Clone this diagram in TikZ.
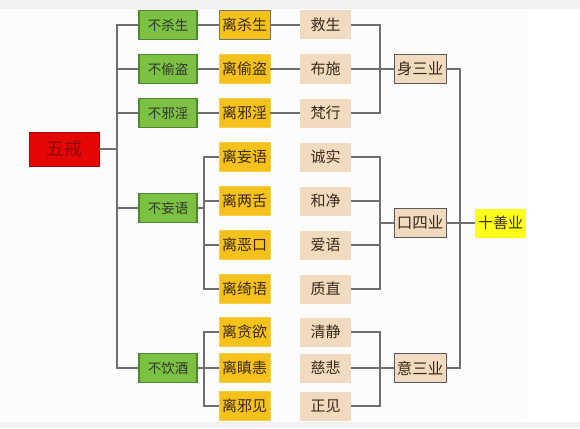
\documentclass[tikz,border=0pt]{standalone}
\usepackage{fontspec}
\usepackage{tikz}
\usetikzlibrary{positioning,calc}
\newfontfamily\cjk{Noto Sans CJK SC}
\definecolor{cRed}{HTML}{E50606}
\definecolor{cRedInk}{HTML}{8E0A0A}
\definecolor{cGreen}{HTML}{7CC142}
\definecolor{cGreenLine}{HTML}{4C8A2E}
\definecolor{cOrange}{HTML}{F5C21B}
\definecolor{cBeige}{HTML}{F1DABE}
\definecolor{cYel}{HTML}{FFFF1A}
\definecolor{cInk}{HTML}{3A2A1A}
\definecolor{cLine}{HTML}{6F6F6F}
\definecolor{cBand}{HTML}{F1F1F1}
\tikzset{
  box/.style={inner sep=0pt, align=center, text=cInk, font=\cjk\fontsize{15}{15}\selectfont},
  boxR/.style={box, fill=cRed, draw=cRed!70!black, line width=0.8pt, minimum width=70pt,
               minimum height=34pt, text=cRedInk, font=\cjk\fontsize{18}{18}\selectfont},
  boxG/.style={box, fill=cGreen, draw=cGreenLine, line width=1.2pt, minimum width=58pt,
               minimum height=29pt, text=black!80, font=\cjk\fontsize{13.5}{13.5}\selectfont},
  boxO/.style={box, fill=cOrange, draw=cOrange!80!white, line width=0.6pt,
               minimum width=51pt, minimum height=29pt},
  boxB/.style={box, fill=cBeige, minimum width=51pt, minimum height=29pt},
  boxK/.style={box, fill=cBeige, draw=black!65, line width=0.9pt, minimum width=52pt,
               minimum height=29pt, font=\cjk\fontsize{15.5}{15.5}\selectfont},
  boxY/.style={box, fill=cYel, minimum width=51pt, minimum height=29pt},
  wire/.style={draw=cLine, line width=1.1pt}
}
\begin{document}
\begin{tikzpicture}[x=1pt, y=-1pt]
% page
\fill[white] (0,0) rectangle (580,428);
\fill[black!1] (0,9) rectangle (527,422);
\fill[cBand] (0,0) rectangle (580,9);
\fill[cBand] (0,422) rectangle (580,428);
\useasboundingbox (0,0) rectangle (580,428);
% root
\node[boxR] (wj) at (64,149) {五戒};
% precepts
\node[boxG] (b1) at (168,25) {不杀生};
\node[boxG] (b2) at (168,69) {不偷盗};
\node[boxG] (b3) at (168,113) {不邪淫};
\node[boxG] (b4) at (168,208) {不妄语};
\node[boxG] (b5) at (168,368) {不饮酒};
% abstentions
\node[boxO, draw=black!55] (l1) at (244.5,25) {离杀生};
\node[boxO] (l2) at (244.5,69) {离偷盗};
\node[boxO] (l3) at (244.5,113) {离邪淫};
\node[boxO] (l4) at (244.5,157) {离妄语};
\node[boxO] (l5) at (244.5,201) {离两舌};
\node[boxO] (l6) at (244.5,245) {离恶口};
\node[boxO] (l7) at (244.5,289) {离绮语};
\node[boxO] (l8) at (244.5,332) {离贪欲};
\node[boxO] (l9) at (244.5,368) {离瞋恚};
\node[boxO] (l10) at (244.5,406) {离邪见};
% virtues
\node[boxB] (s1) at (325.5,25) {救生};
\node[boxB] (s2) at (325.5,69) {布施};
\node[boxB] (s3) at (325.5,113) {梵行};
\node[boxB] (s4) at (325.5,157) {诚实};
\node[boxB] (s5) at (325.5,201) {和净};
\node[boxB] (s6) at (325.5,245) {爱语};
\node[boxB] (s7) at (325.5,289) {质直};
\node[boxB] (s8) at (325.5,332) {清静};
\node[boxB] (s9) at (325.5,368) {慈悲};
\node[boxB] (s10) at (325.5,406) {正见};
% three karmas
\node[boxK] (g1) at (420,69) {身三业};
\node[boxK] (g2) at (420,223) {口四业};
\node[boxK] (g3) at (420,368) {意三业};
\node[boxY] (sh) at (500.5,223) {十善业};
% trunk
\coordinate (tr) at (117,0);
\draw[wire, line width=1.6pt] (b1.west) -- (b1.west -| tr) -- (b5.west -| tr) -- (b5.west);
\draw[wire] (wj.east) -- (wj.east -| tr);
\foreach \i in {2,3,4} \draw[wire] (b\i.west) -- (b\i.west -| tr);
\foreach \i in {1,2,3} {
  \draw[wire] (b\i.east) -- (l\i.west);
  \draw[wire] (l\i.east) -- (s\i.west);
}
% speech and mind branches
\coordinate (br) at (204,0);
\draw[wire] (b4.east) -- (b4.east -| br);
\draw[wire] (l4.west) -- (l4.west -| br) -- (l7.west -| br) -- (l7.west);
\foreach \i in {5,6} \draw[wire] (l\i.west) -- (l\i.west -| br);
\draw[wire] (b5.east) -- (l9.west);
\draw[wire] (l8.west) -- (l8.west -| br) -- (l10.west -| br) -- (l10.west);
% brackets to karmas
\coordinate (bk) at (380,0);
\draw[wire] (s1.east) -- (s1.east -| bk) -- (s3.east -| bk) -- (s3.east);
\draw[wire] (s2.east) -- (g1.west);
\draw[wire] (s4.east) -- (s4.east -| bk) -- (s7.east -| bk) -- (s7.east);
\foreach \i in {5,6} \draw[wire] (s\i.east) -- (s\i.east -| bk);
\draw[wire] (g2.west) -- (g2.west -| bk);
\draw[wire, line width=1.5pt] (s8.east) -- (s8.east -| bk) -- (s10.east -| bk) -- (s10.east);
\draw[wire, line width=1.5pt] (s9.east) -- (g3.west);
% ten good deeds
\coordinate (tk) at (460,0);
\draw[wire] (g1.east) -- (g1.east -| tk) -- (g3.east -| tk) -- (g3.east);
\draw[wire] (g2.east) -- (sh.west);
\end{tikzpicture}
\end{document}
